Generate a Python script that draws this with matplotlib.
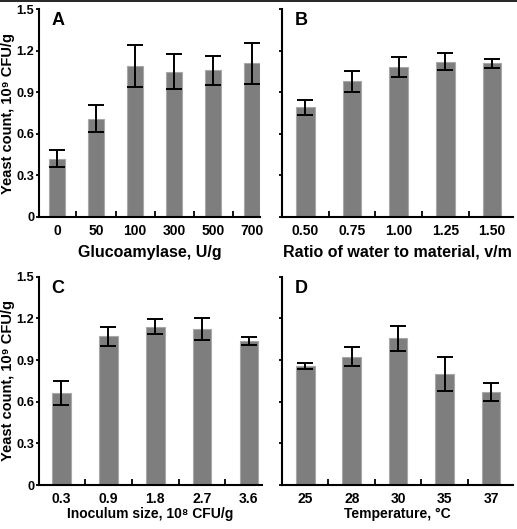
import matplotlib
matplotlib.use("Agg")
import matplotlib.pyplot as plt
from matplotlib.lines import Line2D
import numpy as np

plt.rcParams["font.family"] = ["Liberation Sans", "DejaVu Sans"]
plt.rcParams["font.weight"] = "bold"

# ── data ────────────────────────────────────────────────────────────────────
gluco_labels = ["0", "50", "100", "300", "500", "700"]
gluco_vals = [0.42, 0.71, 1.09, 1.05, 1.06, 1.11]
gluco_err = [0.06, 0.10, 0.15, 0.13, 0.105, 0.148]

ratio_labels = ["0.50", "0.75", "1.00", "1.25", "1.50"]
ratio_vals = [0.79, 0.98, 1.085, 1.12, 1.11]
ratio_err = [0.055, 0.075, 0.072, 0.061, 0.033]

inoc_labels = ["0.3", "0.9", "1.8", "2.7", "3.6"]
inoc_vals = [0.66, 1.07, 1.14, 1.125, 1.04]
inoc_err = [0.086, 0.067, 0.056, 0.078, 0.029]

temp_labels = ["25", "28", "30", "35", "37"]
temp_vals = [0.855, 0.925, 1.055, 0.80, 0.667]
temp_err = [0.02, 0.066, 0.09, 0.124, 0.065]

yticks = [0, 0.3, 0.6, 0.9, 1.2, 1.5]
ytick_labels = ["0", "0.3", "0.6", "0.9", "1.2", "1.5"]

W, H = 517, 529
fig = plt.figure(figsize=(W / 100, H / 100), dpi=100, facecolor="white")


def px_axes(left, right, top, bottom):
    return fig.add_axes([left / W, 1 - bottom / H, (right - left) / W, (bottom - top) / H])


def panel(ax, labels, vals, errs, xlim, letter, xlabel, show_y, xl_size, xl_pad):
    x = np.arange(len(labels))
    ax.bar(x, vals, width=0.4, color="#7e7e7e", edgecolor="#a8a8a8", linewidth=0.8, zorder=2)
    ax.errorbar(x, vals, yerr=errs, fmt="none", ecolor="black", elinewidth=1.4,
                capsize=5.5, capthick=1.4, zorder=3)
    ax.set_xlim(*xlim)
    ax.set_ylim(0, 1.5)
    ax.spines[["top", "right"]].set_visible(False)
    ax.spines[["left", "bottom"]].set_linewidth(1.5)
    ax.set_xticks(x)
    ax.set_xticklabels(labels, fontsize=10, fontweight="bold")
    ax.set_xticks(x[:-1] + 0.5, minor=True)
    ax.tick_params(axis="x", which="major", length=0, pad=5)
    ax.tick_params(axis="x", which="minor", direction="in", length=4.5, width=1.3)
    ax.set_yticks(yticks)
    ax.tick_params(axis="y", direction="out", length=2.5, width=1.3, pad=1)
    if show_y:
        ax.set_yticklabels(ytick_labels, fontsize=9.2, fontweight="bold")
        bb = ax.get_position()
        fig.text(8.5 / W, (bb.y0 + bb.y1) / 2, "Yeast count, 10⁹ CFU/g",
                 rotation=90, ha="center", va="center", fontsize=10.5, fontweight="bold")
    else:
        ax.set_yticklabels([])
    ax.set_xlabel(xlabel, fontsize=xl_size, fontweight="bold", labelpad=xl_pad)
    ax.text(0.057, 0.985, letter, transform=ax.transAxes, ha="left", va="top",
            fontsize=13, fontweight="bold")


axA = px_axes(39, 260, 9.3, 216.7)
panel(axA, gluco_labels, gluco_vals, gluco_err, (-0.46, 5.2), "A",
      "Glucoamylase, U/g", True, 11.5, 5)

axB = px_axes(282, 513, 9.3, 216.7)
panel(axB, ratio_labels, ratio_vals, ratio_err, (-0.5, 4.45), "B",
      "Ratio of water to material, v/m", False, 11.5, 5)

axC = px_axes(39, 262, 276.7, 485)
panel(axC, inoc_labels, inoc_vals, inoc_err, (-0.48, 4.28), "C",
      "Inoculum size, 10⁸ CFU/g", True, 10, 1)

axD = px_axes(282, 513, 276.7, 485)
panel(axD, temp_labels, temp_vals, temp_err, (-0.5, 4.47), "D",
      "Temperature, °C", False, 10, 1)

# top border line of the original figure
fig.add_artist(Line2D([0, 1], [0.999, 0.999], transform=fig.transFigure, color="black", linewidth=1.2))

plt.savefig("out.png", dpi=100, facecolor="white")
